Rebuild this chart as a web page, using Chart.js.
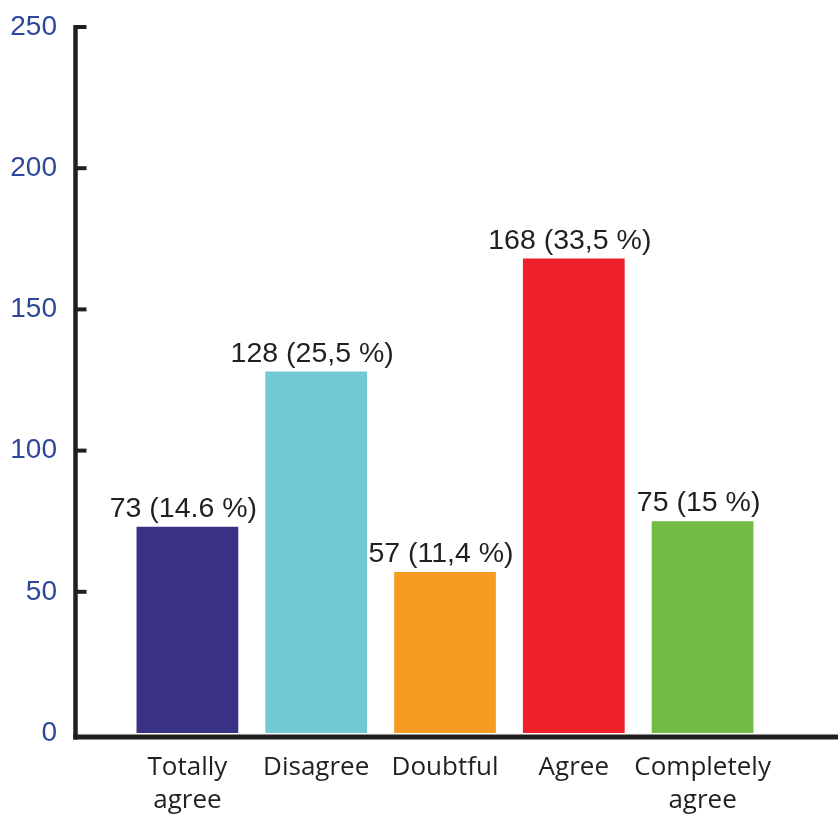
<!DOCTYPE html>
<html>
<head>
<meta charset="utf-8">
<script src="https://cdn.jsdelivr.net/npm/chart.js@4/dist/chart.umd.min.js"></script>
<style>
  html, body { margin: 0; padding: 0; background: #ffffff; }
  #wrap { width: 838px; height: 818px; }
</style>
</head>
<body>
<div id="wrap"><canvas id="chart" width="838" height="818"></canvas></div>
<script>
// Survey answers: number of respondents per answer, and the share printed next to it
const categories = [["Totally", "agree"], "Disagree", "Doubtful", "Agree", ["Completely", "agree"]];
const counts = [73, 128, 57, 168, 75];
const shares = ["14.6", "25,5", "11,4", "33,5", "15"];
const yTicks = [0, 50, 100, 150, 200, 250];

const barColors = ["#393185", "#72c8d3", "#f89c21", "#ee2029", "#72bb45"];
const inkColor = "#231f20";
const tickColor = "#2d4799";

// Axis frame: a heavy left spine with short inward ticks and a long baseline
const axisFrame = {
  id: "axisFrame",
  afterDraw(chart) {
    const { ctx, scales: { y } } = chart;
    const spineX = chart.chartArea.left - 47.5;
    const baseY = y.getPixelForValue(0) + 4;
    ctx.save();
    ctx.strokeStyle = inkColor;
    ctx.lineCap = "butt";
    // ticks
    ctx.lineWidth = 4;
    yTicks.forEach(v => {
      if (v === 0) return;
      const py = y.getPixelForValue(v);
      ctx.beginPath();
      ctx.moveTo(spineX, py);
      ctx.lineTo(spineX + 11, py);
      ctx.stroke();
    });
    // spine
    ctx.lineWidth = 4.5;
    ctx.beginPath();
    ctx.moveTo(spineX, y.getPixelForValue(yTicks[yTicks.length - 1]) - 2);
    ctx.lineTo(spineX, baseY + 2.5);
    ctx.stroke();
    // baseline
    ctx.lineWidth = 5;
    ctx.beginPath();
    ctx.moveTo(spineX - 2.25, baseY);
    ctx.lineTo(chart.width, baseY);
    ctx.stroke();
    ctx.restore();
  }
};

// Count and share written above each bar
const valueLabels = {
  id: "valueLabels",
  afterDatasetsDraw(chart) {
    const { ctx } = chart;
    const meta = chart.getDatasetMeta(0);
    ctx.save();
    ctx.font = '28.5px "Liberation Sans", Arial, sans-serif';
    ctx.fillStyle = inkColor;
    ctx.textAlign = "center";
    ctx.textBaseline = "alphabetic";
    meta.data.forEach((bar, i) => {
      ctx.fillText(counts[i] + " (" + shares[i] + " %)", bar.x - 4, bar.y - 10);
    });
    ctx.restore();
  }
};

new Chart(document.getElementById("chart"), {
  type: "bar",
  data: {
    labels: categories,
    datasets: [{
      data: counts,
      backgroundColor: barColors,
      borderWidth: 0,
      categoryPercentage: 1,
      barPercentage: 0.79
    }]
  },
  options: {
    responsive: false,
    animation: false,
    layout: { padding: { top: 27, right: 71, left: 0, bottom: 0 } },
    plugins: {
      legend: { display: false },
      tooltip: { enabled: false },
      title: { display: false }
    },
    scales: {
      y: {
        min: 0,
        max: 250,
        afterBuildTicks(scale) { scale.ticks = yTicks.map(v => ({ value: v })); },
        afterFit(scale) {
          scale.width = 123;
          scale.paddingTop = 0;
          scale.paddingBottom = 0;
        },
        grid: { display: false, drawTicks: false },
        border: { display: false },
        ticks: {
          padding: 66,
          color: tickColor,
          font: { family: '"Liberation Sans", Arial, sans-serif', size: 28 }
        }
      },
      x: {
        afterFit(scale) { scale.height = 85; },
        grid: { display: false, drawTicks: false },
        border: { display: false },
        ticks: {
          padding: 18,
          maxRotation: 0,
          autoSkip: false,
          color: inkColor,
          font: { family: '"Open Sans", sans-serif', size: 26, lineHeight: 1.27 }
        }
      }
    }
  },
  plugins: [axisFrame, valueLabels]
});
</script>
</body>
</html>
